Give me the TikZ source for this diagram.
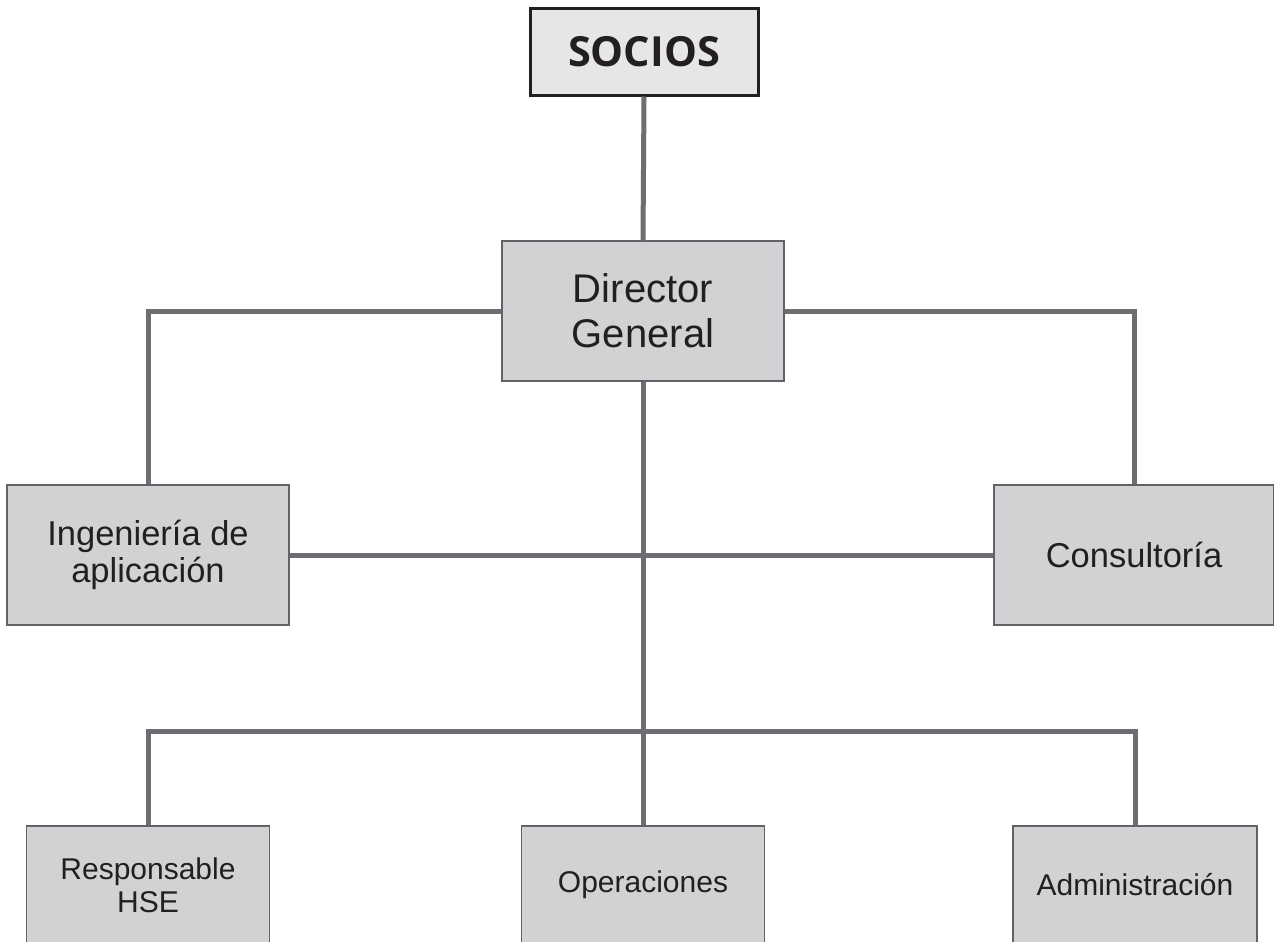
\documentclass[tikz,border=0pt]{standalone}
\usepackage{fontspec}
\setmainfont{Liberation Sans}
\newfontfamily\titlefont{Open Sans}
\definecolor{boxfill}{HTML}{D1D2D4}
\definecolor{topfill}{HTML}{E6E6E7}
\definecolor{linegray}{HTML}{6D6E71}
\definecolor{txt}{HTML}{231F20}
\begin{document}
\begin{tikzpicture}[x=1pt,y=1pt,
  orgbox/.style={draw=linegray!90!black,line width=1.2pt,fill=boxfill,inner sep=0pt,align=center,text=txt},
  topbox/.style={draw=txt,line width=3pt,fill=topfill,inner sep=0pt,align=center,text=txt},
  link/.style={draw=linegray,line width=5pt}]
\useasboundingbox (0,0) rectangle (1274,-942);
\fill[white] (0,0) rectangle (1274,-942);
\coordinate (j) at (643,-731);
\node[topbox,minimum width=228,minimum height=86,font=\titlefont\bfseries\fontsize{41.5}{44}\selectfont] (socios) at (644,-52) {SOCIOS};
\node[orgbox,minimum width=282,minimum height=140,font=\fontsize{40}{45}\selectfont] (dg) at (643,-311) {Director\\General};
\node[orgbox,minimum width=282,minimum height=140,font=\fontsize{34.5}{37}\selectfont] (ing) at (148,-555) {Ingeniería de\\aplicación};
\node[orgbox,minimum width=280,minimum height=140,font=\fontsize{34.5}{37}\selectfont] (cons) at (1134,-555) {Consultoría};
\node[orgbox,minimum width=243,minimum height=118,font=\fontsize{30}{33}\selectfont] (hse) at (148,-885) {Responsable\\HSE};
\node[orgbox,minimum width=243,minimum height=118,font=\fontsize{30}{33}\selectfont] (ops) at (643,-885) {Operaciones};
\node[orgbox,minimum width=244,minimum height=118,font=\fontsize{30}{33}\selectfont] (adm) at (1135,-885) {Administración};
\path[link] (socios.south) -- (dg.north);
\path[link] (dg.west) -| (ing.north);
\path[link] (dg.east) -| (cons.north);
\path[link] (dg.south) -- (ops.north);
\path[link] (ing.east) -- (cons.west);
\path[link] (j) -| (hse.north);
\path[link] (j) -| (adm.north);
\end{tikzpicture}
\end{document}
